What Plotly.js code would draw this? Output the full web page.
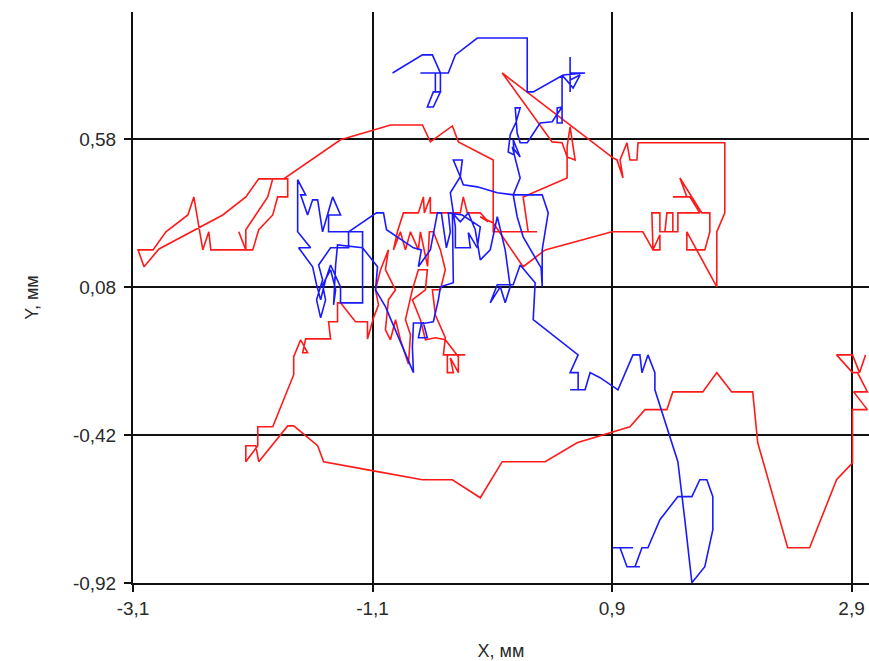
<!DOCTYPE html>
<html>
<head>
<meta charset="utf-8">
<script src="https://cdn.plot.ly/plotly-3.0.1.min.js"></script>
<style>html,body{margin:0;padding:0;background:#fff;}#chart{width:869px;height:661px;}</style>
</head>
<body>
<div id="chart"></div>
<script>
// Red trajectory (X, mm / Y, mm)
const redX = [
-2.217,-2.158,-2.158,-1.975,-1.933,-1.808,-1.808,-1.892,-1.933,-2.050,
-2.100,-2.450,-2.467,-2.517,-2.592,-2.642,-2.825,-2.933,-3.058,-3.008,
-2.883,-2.350,-2.158,-2.050,-1.842,-1.367,-1.033,-0.950,-0.683,-0.617,
-0.433,-0.383,-0.092,-0.092,0.275,0.200,0.158,0.525,0.525,0.550,
0.592,0.525,0.483,0.400,-0.017,0.908,0.942,0.992,0.967,1.025,
1.050,1.108,1.117,1.842,1.842,1.775,1.775,1.525,1.525,1.675,
1.717,1.717,1.650,1.467,1.525,1.408,1.550,1.633,1.450,1.450,
1.342,1.358,1.408,1.408,1.300,1.300,1.233,1.242,1.300,1.300,
1.242,1.158,0.900,0.342,0.158,-0.092,-0.200,-0.133,-0.200,-0.308,
-0.342,-0.367,-0.617,-0.617,-0.667,-0.675,-0.717,-0.842,-0.892,-0.925,
-0.867,-0.825,-0.783,-0.717,-0.700,-0.640,-0.625,-0.592,-0.533,-0.492,-0.533,-0.600,
-0.575,-0.492,-0.508,-0.325,-0.475,-0.475,-0.425,-0.450,-0.383,-0.383,
-0.492,-0.575,-0.658,-0.700,-0.767,-0.658,-0.642,-0.717,-0.767,-0.825,
-0.783,-0.800,-0.867,-0.908,-0.950,-0.992,-0.967,-0.908,-0.992,-0.967,-1.033,
-1.075,-1.050,-1.092,-1.142,-1.142,-1.242,-1.367,-1.392,-1.392,-1.467,
-1.450,-1.658,-1.683,-1.642,-1.700,-1.758,-1.758,-1.933,-2.058,-2.058,
-2.158,-2.158,-2.075,-2.050,-1.808,-1.758,-1.558,-1.508,-1.092,-0.683,
-0.433,-0.200,-0.017,0.342,0.608,1.050,1.175,1.358,1.408,1.658,
1.775,1.900,2.075,2.117,2.367,2.550,2.775,2.908,2.908,3.033,
2.917,3.033,2.950,2.908,2.775,2.908,2.967,3.017
];
const redY = [
0.267,0.206,0.274,0.385,0.446,0.446,0.385,0.385,0.324,0.274,
0.206,0.206,0.267,0.206,0.385,0.324,0.267,0.206,0.206,0.149,
0.209,0.324,0.385,0.446,0.446,0.578,0.618,0.628,0.628,0.571,
0.625,0.571,0.510,0.267,0.267,0.267,0.385,0.449,0.554,0.622,
0.510,0.520,0.568,0.571,0.804,0.517,0.510,0.449,0.510,0.568,
0.510,0.510,0.568,0.568,0.331,0.267,0.081,0.267,0.206,0.206,
0.267,0.331,0.331,0.449,0.385,0.385,0.385,0.331,0.331,0.267,
0.267,0.331,0.331,0.267,0.267,0.331,0.331,0.206,0.206,0.257,
0.206,0.267,0.267,0.206,0.149,0.297,0.318,0.301,0.331,0.331,
0.385,0.331,0.331,0.385,0.331,0.385,0.331,0.331,0.267,0.206,
0.267,0.206,0.267,0.206,0.267,0.150,0.267,0.267,0.206,0.139,0.071,0.071,
-0.014,-0.091,-0.149,-0.149,-0.149,-0.209,-0.209,-0.159,-0.209,-0.155,
-0.098,-0.091,-0.098,-0.030,0.037,0.071,0.139,0.139,0.071,-0.030,
-0.081,-0.180,-0.098,-0.030,-0.098,-0.064,0.037,0.071,0.139,0.206,0.139,
0.071,0.020,-0.024,-0.095,-0.037,-0.037,0.027,0.027,-0.037,-0.037,
-0.095,-0.095,-0.142,-0.142,-0.098,-0.155,-0.216,-0.392,-0.392,-0.456,
-0.510,-0.456,-0.456,-0.510,-0.389,-0.389,-0.456,-0.510,-0.541,-0.571,
-0.571,-0.632,-0.510,-0.510,-0.446,-0.392,-0.334,-0.334,-0.274,-0.274,
-0.209,-0.274,-0.274,-0.446,-0.801,-0.801,-0.571,-0.514,-0.334,-0.334,
-0.274,-0.274,-0.209,-0.209,-0.149,-0.149,-0.209,-0.149
];
// Blue trajectory
const blueX = [
-0.933,-0.683,-0.600,-0.533,-0.700,-0.575,-0.575,-0.533,-0.592,-0.642,
-0.592,-0.533,-0.533,-0.467,-0.408,-0.225,0.192,0.192,0.242,0.492,
0.675,0.550,0.550,0.550,0.550,0.633,0.575,0.483,0.483,0.442,
0.442,0.483,0.400,0.300,0.192,0.133,0.108,0.092,0.133,0.100,
0.050,0.033,0.083,0.075,0.133,0.067,0.092,0.133,0.075,0.317,
0.367,0.317,0.317,0.308,0.158,0.108,0.075,-0.058,-0.225,-0.342,
-0.367,-0.425,-0.350,-0.367,-0.450,-0.408,-0.408,-0.283,-0.300,-0.225,
-0.200,-0.350,-0.467,-0.450,-0.483,-0.508,-0.525,-0.558,-0.617,-0.717,
-0.692,-0.758,-0.983,-1.008,-1.067,-1.300,-1.183,-1.183,-1.367,-1.367,
-1.450,-1.492,-1.533,-1.567,-1.600,-1.717,-1.617,-1.725,-1.725,-1.658,
-1.700,-1.642,-1.600,-1.558,-1.517,-1.433,-1.367,-1.467,-1.467,-1.300,
-1.300,-1.450,-1.550,-1.517,-1.567,-1.533,-1.492,-1.517,-1.450,-1.408,
-1.425,-1.408,-1.392,-1.183,-1.058,-1.075,-0.992,-0.758,-0.767,-0.758,
-0.675,-0.642,-0.717,-0.692,-0.592,-0.550,-0.533,-0.425,-0.433,-0.367,
-0.300,-0.242,-0.200,-0.117,-0.058,0.008,0.050,0.008,-0.033,-0.117,
-0.058,0.075,0.133,0.258,0.242,0.617,0.550,0.617,0.617,0.550,
0.675,0.717,0.800,0.950,1.075,1.133,1.150,1.200,1.258,1.258,
1.450,1.508,1.567,1.675,1.742,1.742,1.692,1.633,1.567,1.450,
1.300,1.200,1.150,1.092,1.133,1.025,0.967,0.908,1.075
];
const blueY = [
0.804,0.865,0.865,0.804,0.804,0.804,0.740,0.740,0.689,0.689,
0.740,0.740,0.804,0.804,0.865,0.922,0.922,0.740,0.740,0.797,
0.804,0.804,0.858,0.740,0.780,0.797,0.753,0.797,0.635,0.635,
0.686,0.689,0.639,0.635,0.568,0.568,0.601,0.686,0.686,0.639,
0.595,0.537,0.527,0.578,0.520,0.554,0.510,0.449,0.392,0.392,
0.331,0.206,0.081,0.145,0.250,0.318,0.392,0.399,0.419,0.426,
0.453,0.510,0.510,0.453,0.399,0.284,0.213,0.213,0.264,0.213,
0.284,0.324,0.331,0.267,0.213,0.274,0.331,0.331,0.206,0.149,
0.206,0.213,0.274,0.331,0.331,0.267,0.267,0.027,0.027,0.081,
0.155,0.105,0.037,0.088,0.149,0.213,0.213,0.267,0.443,0.392,
0.392,0.324,0.375,0.375,0.267,0.385,0.324,0.324,0.267,0.267,
0.213,0.213,0.155,0.105,0.037,-0.024,0.037,0.088,0.139,0.071,
0.020,0.155,0.223,0.213,0.149,0.071,0.014,-0.209,-0.122,-0.041,
-0.041,-0.091,-0.091,-0.044,-0.037,0.037,0.081,0.095,0.331,0.301,
0.331,0.274,0.172,0.206,0.318,0.206,0.081,0.027,0.081,0.027,
0.088,0.088,0.155,0.095,-0.030,-0.149,-0.209,-0.209,-0.267,-0.267,
-0.267,-0.209,-0.226,-0.267,-0.149,-0.149,-0.209,-0.149,-0.209,-0.267,
-0.510,-0.706,-0.919,-0.865,-0.740,-0.628,-0.571,-0.571,-0.628,-0.628,
-0.706,-0.801,-0.801,-0.865,-0.865,-0.865,-0.801,-0.801,-0.801
];
// Axis ticks
const xTickVals = [-3.1, -1.1, 0.9, 2.9];
const xTickText = ["-3,1", "-1,1", "0,9", "2,9"];
const yTickVals = [-0.92, -0.42, 0.08, 0.58];
const yTickText = ["-0,92", "-0,42", "0,08", "0,58"];
const xTitle = "X, мм";
const yTitle = "Y, мм";

const FONT = "Liberation Sans, Arial, sans-serif";
const traces = [
  {x: redX, y: redY, type: "scatter", mode: "lines", line: {color: "#ff1a1a", width: 1.6}, hoverinfo: "skip"},
  {x: blueX, y: blueY, type: "scatter", mode: "lines", line: {color: "#1a1aff", width: 1.6}, hoverinfo: "skip"}
];
const axisCommon = {
  showgrid: true, gridcolor: "#111", gridwidth: 2,
  zeroline: false, showline: true, linecolor: "#111", linewidth: 2,
  ticks: "outside", ticklen: 7, tickwidth: 2, tickcolor: "#111",
  tickfont: {family: FONT, size: 19, color: "#2a2a2a"},
  tickmode: "array", fixedrange: true
};
const layout = {
  width: 869, height: 661,
  margin: {l: 133, r: 0, t: 12, b: 78},
  paper_bgcolor: "#fff", plot_bgcolor: "#fff",
  showlegend: false,
  xaxis: Object.assign({}, axisCommon, {
    range: [-3.1, 3.046], tickvals: xTickVals, ticktext: xTickText,
    title: {text: xTitle, font: {family: FONT, size: 18, color: "#2a2a2a"}, standoff: 30}
  }),
  yaxis: Object.assign({}, axisCommon, {
    range: [-0.92, 1.01], tickvals: yTickVals, ticktext: yTickText, ticklabelstandoff: 4,
    title: {text: yTitle, font: {family: FONT, size: 18, color: "#2a2a2a"}, standoff: 30}
  })
};
Plotly.newPlot("chart", traces, layout, {staticPlot: true, displayModeBar: false});
</script>
</body>
</html>
